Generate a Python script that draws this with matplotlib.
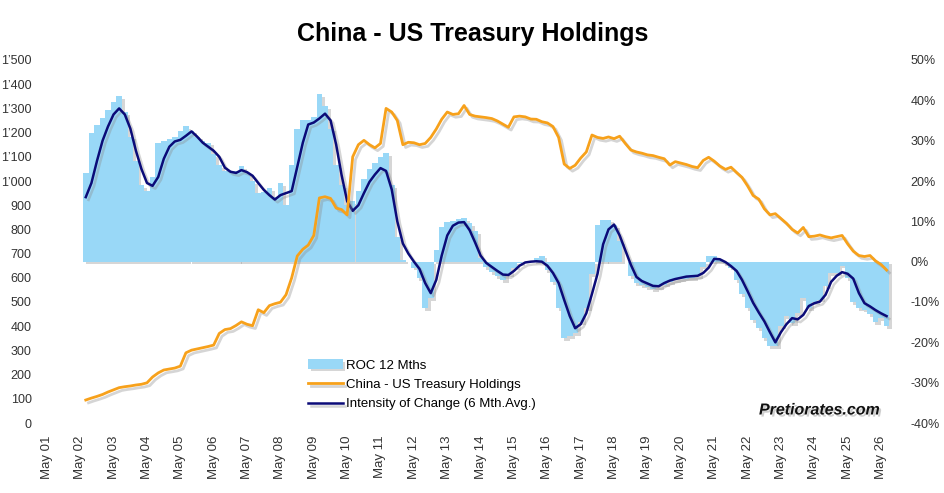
import matplotlib
matplotlib.use("Agg")
import matplotlib.pyplot as plt
import matplotlib.patheffects as pe
from matplotlib.ticker import FuncFormatter
import pandas as pd

plt.rcParams['font.family'] = ['Liberation Sans', 'DejaVu Sans']

# bi-monthly samples, Jul 2002 onwards
start = '2002-07-01'

# China - US Treasury Holdings (bn USD, left axis)
holdings = [95, 103, 110, 118, 128, 137, 146, 150, 153, 157,
            160, 166, 190, 207, 219, 223, 227, 235, 290, 301,
            306, 311, 316, 322, 370, 386, 390, 403, 418, 408,
            402, 468, 456, 485, 493, 499, 530, 600, 690, 718,
            735, 775, 930, 935, 928, 888, 882, 860, 1100, 1150,
            1168, 1150, 1137, 1155, 1300, 1285, 1250, 1150, 1160, 1158,
            1150, 1155, 1180, 1215, 1255, 1285, 1275, 1278, 1312, 1275,
            1268, 1265, 1262, 1258, 1248, 1235, 1222, 1265, 1268, 1265,
            1256, 1255, 1245, 1240, 1225, 1180, 1070, 1052, 1065, 1095,
            1120, 1190, 1180, 1176, 1182, 1175, 1185, 1155, 1128, 1120,
            1115, 1108, 1105, 1098, 1092, 1066, 1080, 1074, 1068, 1060,
            1055, 1085, 1098, 1082, 1062, 1048, 1057, 1035, 1015, 980,
            940, 925, 885, 860, 865, 845, 825, 800, 785, 808,
            770, 772, 777, 770, 765, 770, 775, 740, 710, 692,
            688, 692, 670, 655, 632]

# ROC 12 months (%, right axis)
roc = [22, 32, 34, 35.5, 37.5, 39.5, 41, 37, 31, 25,
       19, 17.5, 21, 29.5, 30, 30.5, 31, 32.5, 33.6, 32.5,
       31, 30, 29.5, 26.6, 24, 22.6, 22.4, 22.6, 23.6, 22,
       20, 17, 17.2, 18.3, 16, 19.5, 14, 24, 33, 35.2,
       35.2, 35.8, 41.5, 38.5, 33, 24, 19, 14, 15, 17.5,
       20.5, 23, 24.5, 26, 27, 19, 6, 0.5, 0, -1.5,
       -4, -11.5, -9, 3, 8.5, 9.8, 10.2, 10.5, 10.8, 9.5,
       7.5, 1, -1.4, -2.5, -3.5, -4.5, -3, -1.5, -0.3, 0,
       0.2, 0.8, 1.5, -2, -5, -11.5, -19, -18.5, -17.7, -15,
       -11.5, -3, 9, 10.4, 10.4, 9, 5, 0, -3.5, -5.3,
       -5.8, -6.3, -6.9, -6.3, -5.7, -5, -4.6, -4.3, -4.2, -4,
       -3.5, -1.2, 1.5, 1.4, 0.5, -0.3, -1.5, -4.5, -8, -11.5,
       -14.4, -16.5, -19, -21, -21, -16, -13.5, -15.2, -12.7, -9,
       -11.5, -10, -9.4, -6, -2.8, -2.8, -1, -4, -10, -11.5,
       -11.9, -13, -15, -14, -16]

# Intensity of change, 6 month average (%, right axis)
intensity = [16, 19.5, 25, 30, 33.5, 36.5, 38, 36.5, 33, 27.5,
             23, 19.5, 18.8, 21, 25.5, 28.5, 29.8, 30.2, 31.2, 32.3,
             31, 29.5, 28.5, 27.5, 26, 23.3, 22.3, 22, 22.7, 22.2,
             21.3, 19.5, 17.8, 16.5, 15.4, 16.5, 17, 17.5, 23.5, 29.5,
             34, 34.5, 35.5, 36.7, 35, 29, 21.5, 15, 12.6, 14,
             17, 19.8, 21.6, 23.2, 22.5, 17.9, 10, 4.5, 2, 0,
             -1.8, -5.3, -7.8, -4.5, 1.5, 6.5, 8.9, 9.7, 9.8, 7.8,
             4.8, 1.5, -0.3, -1.3, -2.3, -3.2, -3.3, -2.3, -1, -0.2,
             0, 0.1, 0, -1, -2.8, -5.3, -9.5, -13.5, -16.5, -15.5,
             -12.8, -8, -3, 4.3, 8, 9.2, 6.5, 2.8, -0.8, -3.8,
             -4.8, -5.4, -6, -6.1, -5.3, -4.7, -4.3, -4, -3.7, -3.6,
             -3.5, -2.8, -1.5, 0.7, 0.6, -0.1, -1.1, -2.3, -4.5, -7.3,
             -10.2, -12.6, -14.8, -17.5, -20, -17.5, -15.5, -14, -14.3, -13.2,
             -11, -10.3, -9.9, -8.2, -5, -3.5, -2.6, -3, -4.2, -7.8,
             -10.3, -11.1, -12, -12.8, -13.5]

dates = pd.date_range(start, periods=len(holdings), freq='2MS')
tick_years = list(range(2001, 2027))
tick_dates = [pd.Timestamp(f'{y}-05-01') for y in tick_years]
tick_labels = [f'May {y % 100:02d}' for y in tick_years]

fig = plt.figure(figsize=(9.45, 4.93), dpi=100)
ax = fig.add_axes([40 / 945, 70 / 493, 855 / 945, 363 / 493])
axl = ax.twinx()

shadow_line = [pe.SimpleLineShadow(offset=(2, -2), shadow_color='#888888', alpha=0.35), pe.Normal()]

bars = ax.bar(dates, roc, width=61, color='#99D8F7', linewidth=0,
              label='ROC 12 Mths')
for b in bars:
    b.set_path_effects([pe.SimplePatchShadow(offset=(2, -2), shadow_rgbFace='#999999', alpha=0.4), pe.Normal()])

nv, = ax.plot(dates, intensity, color='#0B0B78', lw=1.8, path_effects=shadow_line,
              label='Intensity of Change (6 Mth.Avg.)')
og, = axl.plot(dates, holdings, color='#F7A11B', lw=2.0, path_effects=shadow_line,
               label='China - US Treasury Holdings')

ax.set_ylim(-40, 50)
ax.set_yticks(range(-40, 51, 10))
ax.yaxis.set_major_formatter(FuncFormatter(lambda v, p: f'{int(v)}%'))
ax.yaxis.tick_right()
ax.tick_params(axis='y', length=0, pad=11, labelsize=9, labelcolor='#333333')

axl.set_ylim(0, 1500)
axl.set_yticks(range(0, 1501, 100))
axl.yaxis.set_major_formatter(FuncFormatter(lambda v, p: f'{int(v):,}'.replace(',', '\u2019')))
axl.yaxis.tick_left()
axl.tick_params(axis='y', length=0, pad=6, labelsize=9, labelcolor='#333333')

ax.set_xlim(pd.Timestamp('2001-02-15'), pd.Timestamp('2026-10-01'))
ax.set_xticks(tick_dates)
ax.set_xticklabels(tick_labels, rotation=90)
ax.tick_params(axis='x', length=0, pad=9, labelsize=9.5, labelcolor='#333333')

for a in (ax, axl):
    for s in a.spines.values():
        s.set_visible(False)

fig.suptitle('China - US Treasury Holdings', x=0.5, y=0.955, fontsize=18, fontweight='bold')

leg = axl.legend(handles=[bars, og, nv], loc='upper left',
                 bbox_to_anchor=(303 / 945, 1 - 354 / 493), bbox_transform=fig.transFigure,
                 frameon=False, fontsize=9.5, handlelength=2.6, handletextpad=0.25,
                 labelspacing=0.55, borderaxespad=0)

fig.text(880 / 945, 1 - 410 / 493, 'Pretiorates.com', ha='right', va='center',
         fontsize=11.5, fontweight='bold', fontstyle='italic', color='#111111',
         path_effects=[pe.withSimplePatchShadow(offset=(1.5, -1.5), shadow_rgbFace='#888888', alpha=0.4)])

fig.savefig('out.png', dpi=100)
